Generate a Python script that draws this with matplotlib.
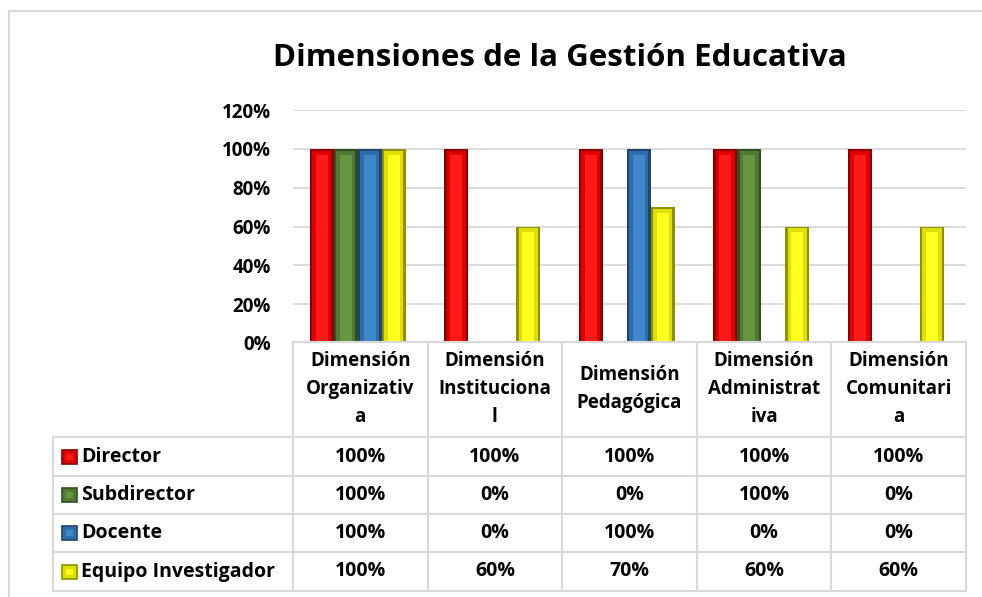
import matplotlib
matplotlib.use("Agg")
import matplotlib.pyplot as plt
from matplotlib.patches import Rectangle
from matplotlib.lines import Line2D
import numpy as np

# ============================================================
# DATOS
# ============================================================
TITLE = "Dimensiones de la Gestión Educativa"
CATEGORIES = [
    "Dimensión\nOrganizativ\na",
    "Dimensión\nInstituciona\nl",
    "Dimensión\nPedagógica",
    "Dimensión\nAdministrat\niva",
    "Dimensión\nComunitari\na",
]
SERIES = ["Director", "Subdirector", "Docente", "Equipo Investigador"]
director = [1.00, 1.00, 1.00, 1.00, 1.00]
subdirector = [1.00, 0.00, 0.00, 1.00, 0.00]
docente = [1.00, 0.00, 1.00, 0.00, 0.00]
equipo = [1.00, 0.60, 0.70, 0.60, 0.60]
VALUES = [director, subdirector, docente, equipo]
YTICKS = [0, 0.2, 0.4, 0.6, 0.8, 1.0, 1.2]

# colores: (brillante, medio, oscuro)
COLORS = [
    ("#FF1A1A", "#E00000", "#8A0000"),
    ("#66963F", "#507A33", "#334D22"),
    ("#4088CC", "#2F6DA8", "#1F4670"),
    ("#FFFF20", "#E0E000", "#8F8F00"),
]

FONT = "Open Sans"
FS = 14
W, H = 982, 597
fig = plt.figure(figsize=(W / 100, H / 100), dpi=100)


def fx(x):
    return x / W


def fy(y):
    return 1 - y / H


GRID = "#D9D9D9"

# marco exterior
fig.add_artist(Line2D([fx(9), fx(9)], [fy(11), fy(597)], color=GRID, lw=1.5))
fig.add_artist(Line2D([fx(9), fx(982)], [fy(11), fy(11)], color=GRID, lw=1.5))

# ============================================================
# GRAFICO DE BARRAS
# ============================================================
left, right, top, bottom = 293, 966, 110, 343
ax = fig.add_axes([fx(left), fy(bottom), fx(right) - fx(left), fy(top) - fy(bottom)])
ax.set_xlim(-0.5, len(CATEGORIES) - 0.5)
ax.set_ylim(0, 1.2)
ax.set_yticks(YTICKS)
ax.set_yticklabels([f"{int(round(t * 100))}%" for t in YTICKS],
                   fontsize=FS - 0.5, fontweight="bold", family=FONT)
ax.tick_params(axis="y", length=0, pad=16)
ax.set_xticks([])
for s in ax.spines.values():
    s.set_visible(False)
ax.grid(axis="y", color=GRID, lw=1.3)
ax.set_axisbelow(True)

bw = 24 / ((right - left) / len(CATEGORIES))
x = np.arange(len(CATEGORIES)) - 0.02
for i, vals in enumerate(VALUES):
    pos = x + (i - 1.5) * bw
    bright, mid, dark = COLORS[i]
    vals = np.array(vals)
    ax.bar(pos, vals, width=bw, color=dark, zorder=3)
    ax.bar(pos, np.clip(vals - 0.01, 0, None), width=bw * 0.8, color=mid, zorder=4)
    ax.bar(pos, np.clip(vals - 0.03, 0, None), width=bw * 0.5, color=bright, zorder=5)

fig.text(fx(560), fy(58), TITLE, ha="center", va="center",
         fontsize=22.5, fontweight="bold", family=FONT)

# ============================================================
# TABLA DE DATOS
# ============================================================
col_edges = np.linspace(left, right, len(CATEGORIES) + 1)
row_edges = [437, 476, 514, 552, 591]
tbl_left = 53

fig.add_artist(Line2D([fx(left), fx(right)], [fy(342), fy(342)], color=GRID, lw=1.5))
for y in row_edges:
    fig.add_artist(Line2D([fx(tbl_left), fx(right)], [fy(y), fy(y)], color=GRID, lw=1.5))
for xe in col_edges:
    fig.add_artist(Line2D([fx(xe), fx(xe)], [fy(342), fy(591)], color=GRID, lw=1.5))
fig.add_artist(Line2D([fx(tbl_left), fx(tbl_left)], [fy(437), fy(591)], color=GRID, lw=1.5))

for j, cat in enumerate(CATEGORIES):
    cx = (col_edges[j] + col_edges[j + 1]) / 2
    fig.text(fx(cx), fy(389), cat, ha="center", va="center", fontsize=FS - 0.5,
             fontweight="bold", family=FONT, linespacing=1.55)

for i, name in enumerate(SERIES):
    cy = (row_edges[i] + row_edges[i + 1]) / 2
    bright, mid, dark = COLORS[i]
    fig.add_artist(Rectangle((fx(62), fy(cy + 7)), fx(15), 14 / H,
                             facecolor=mid, edgecolor=dark, lw=1.2))
    fig.add_artist(Rectangle((fx(66), fy(cy + 3)), fx(7), 6 / H,
                             facecolor=bright, edgecolor="none"))
    fig.text(fx(81), fy(cy), name, ha="left", va="center", fontsize=FS,
             fontweight="bold", family=FONT)
    for j, v in enumerate(VALUES[i]):
        cx = (col_edges[j] + col_edges[j + 1]) / 2
        fig.text(fx(cx), fy(cy), f"{int(round(v * 100))}%", ha="center",
                 va="center", fontsize=FS, fontweight="bold", family=FONT)

plt.savefig("out.png", dpi=100)
